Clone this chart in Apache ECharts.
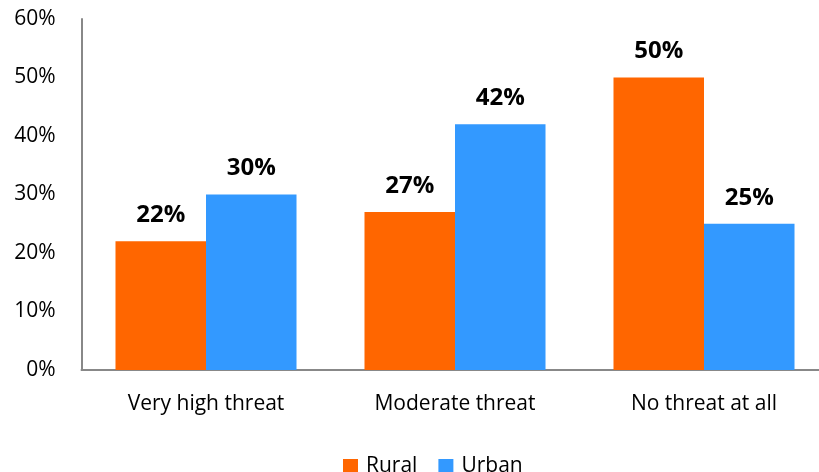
<!DOCTYPE html>
<html><head><meta charset="utf-8">
<script src="https://cdn.jsdelivr.net/npm/echarts@6/dist/echarts.min.js"></script>
<style>html,body{margin:0;padding:0;background:#fff}#c{width:819px;height:472px}</style>
</head><body><div id="c"></div>
<script>
const categories = ['Very high threat', 'Moderate threat', 'No threat at all'];
const rural = [22, 27, 50];
const urban = [30, 42, 25];
const yTicks = [0, 10, 20, 30, 40, 50, 60];
const font = '"Open Sans", sans-serif';
const chart = echarts.init(document.getElementById('c'));
const lbl = {show: true, position: 'top', distance: 14, formatter: '{c}%', color: '#000', fontWeight: 'bold', fontSize: 24, fontFamily: font};
chart.setOption({
  animation: false,
  grid: {left: 81.5, width: 747, top: 19, bottom: 102, outerBoundsMode: 'none', containLabel: false},
  legend: {top: 451, left: 338, itemWidth: 15, itemHeight: 15, itemGap: 21,
    textStyle: {fontSize: 21, fontFamily: font, color: '#000', padding: [0, 0, 0, 3]}, icon: 'rect', data: ['Rural', 'Urban']},
  xAxis: {type: 'category', data: categories,
    axisLine: {lineStyle: {color: '#888', width: 2}}, axisTick: {show: false},
    axisLabel: {fontSize: 21, fontFamily: font, color: '#000', margin: 24}},
  yAxis: {type: 'value', min: yTicks[0], max: yTicks[yTicks.length - 1], interval: 10,
    axisLine: {show: true, lineStyle: {color: '#888', width: 2}}, axisTick: {show: false},
    splitLine: {show: false},
    axisLabel: {formatter: '{value}%', fontSize: 21, fontFamily: font, color: '#000', margin: 26}},
  series: [
    {name: 'Rural', type: 'bar', data: rural, barGap: 0, barCategoryGap: '27.3%', itemStyle: {color: '#FF6600'}, label: lbl},
    {name: 'Urban', type: 'bar', data: urban, barGap: 0, barCategoryGap: '27.3%', itemStyle: {color: '#3399FF'}, label: lbl}
  ]
});
</script></body></html>
